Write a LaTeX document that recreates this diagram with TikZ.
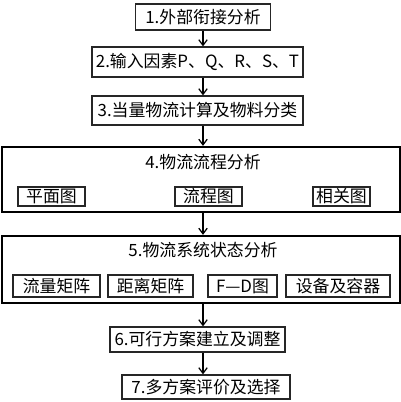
\documentclass[tikz,border=0pt]{standalone}
\usepackage{fontspec}
\usepackage{tikz}
\usetikzlibrary{arrows.meta, positioning, calc}
\newfontfamily\cjk{Noto Sans CJK SC}

\tikzset{
    wh/.style 2 args={minimum width=#1*0.025cm, minimum height=#2*0.025cm},
    stepbox/.style={draw=black!85, line width=0.9pt, fill=white, inner sep=0pt},
    bigbox/.style={draw=black, line width=1.6pt, inner sep=0pt},
    subbox/.style={draw=black!85, line width=0.8pt, inner sep=0pt},
    arr/.style={-{Straight Barb[length=4pt, width=6pt]}, line width=0.9pt}
}

\begin{document}
\begin{tikzpicture}[x=0.025cm, y=-0.025cm, font=\cjk\fontsize{12}{14}\selectfont]
    \useasboundingbox (0,0) rectangle (401,402);

    % 主流程
    \node[stepbox, wh={135}{26}] (b1) at (203,17) {1.外部衔接分析};
    \node[stepbox, wh={211}{30}] (b2) at (197.5,62) {2.输入因素P、Q、R、S、T};
    \node[stepbox, wh={211}{29}] (b3) at (197.5,110.5) {3.当量物流计算及物料分类};

    % 物流流程分析
    \node[bigbox, wh={398}{65}] (b4) at (201,179.5) {};
    \node (t4) at (203,162) {4.物流流程分析};
    \node[subbox, wh={67}{19}] (pm) at (51.5,196.5) {平面图};
    \node[subbox, wh={67}{19}] (lc) at (208.5,196.5) {流程图};
    \node[subbox, wh={57}{19}] (xg) at (341.5,196.5) {相关图};

    % 物流系统状态分析
    \node[bigbox, wh={398}{67}] (b5) at (201,269.5) {};
    \node (t5) at (203,250) {5.物流系统状态分析};
    \node[subbox, wh={87}{22}] (ll) at (56.5,286) {流量矩阵};
    \node[subbox, wh={85}{22}] (jl) at (150.5,286) {距离矩阵};
    \node[subbox, wh={69}{22}] (fd) at (242.5,286) {F—D图};
    \node[subbox, wh={104}{22}] (sb) at (338,286) {设备及容器};

    % 方案
    \node[stepbox, wh={175}{25}] (b6) at (197.5,339.5) {6.可行方案建立及调整};
    \node[stepbox, wh={168}{24}] (b7) at (206,387) {7.多方案评价及选择};

    % 箭头
    \draw[arr] (b1.south) -- (b2.north -| b1);
    \draw[arr] (b2.south -| b1) -- (b3.north -| b1);
    \draw[arr] (b3.south -| b1) -- (b4.north -| b1);
    \draw[arr] (b4.south -| b1) -- (b5.north -| b1);
    \draw[arr] (b5.south -| b1) -- (b6.north -| b1);
    \draw[arr] (b6.south -| b1) -- (b7.north -| b1);
\end{tikzpicture}
\end{document}
